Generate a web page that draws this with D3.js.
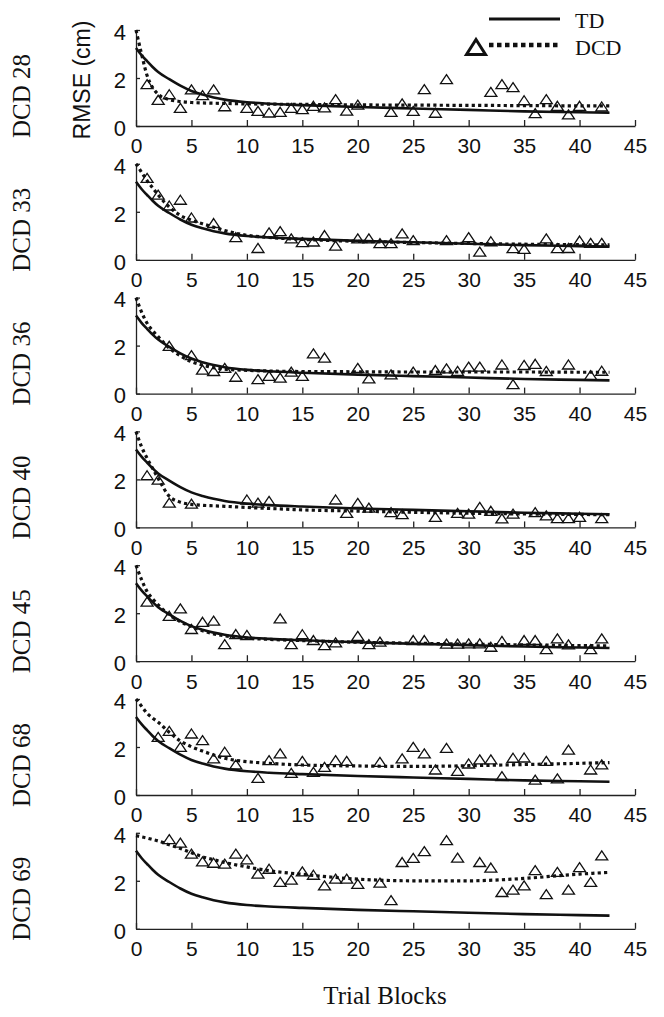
<!DOCTYPE html>
<html><head><meta charset="utf-8">
<script src="https://cdn.jsdelivr.net/npm/d3@7"></script>
<style>html,body{margin:0;padding:0;background:#fff;}svg{display:block;}</style>
</head><body>
<script>
// ---- data ----
const panelNames = ["DCD 28","DCD 33","DCD 36","DCD 40","DCD 45","DCD 68","DCD 69"];
const xTicks = [0,5,10,15,20,25,30,35,40,45];
const yTicks = [0,2,4];
const fitBlocks = [0,0.5,1,1.5,2,3,4,5,6,7,8,10,12,15,20,25,30,35,40,42.7];
const tdFit = [3.25,2.95,2.7,2.46,2.25,1.95,1.68,1.46,1.31,1.19,1.1,0.99,0.93,0.87,0.79,0.73,0.67,0.61,0.57,0.55];
const dcdFit28 = [4.0,3.0,2.1,1.6,1.32,1.1,1.02,0.98,0.96,0.95,0.94,0.92,0.91,0.9,0.88,0.87,0.86,0.85,0.84,0.84];
const dcdFit33 = [4.0,3.65,3.3,3.0,2.7,2.2,1.85,1.65,1.5,1.36,1.22,1.02,0.93,0.85,0.77,0.72,0.68,0.65,0.63,0.62];
const dcdFit36 = [4.0,3.4,2.93,2.62,2.37,1.9,1.57,1.33,1.19,1.08,1.02,0.97,0.94,0.92,0.91,0.9,0.9,0.9,0.89,0.89];
const dcdFit40 = [4.0,3.36,2.88,2.46,2.04,1.3,1.05,0.96,0.92,0.9,0.88,0.83,0.79,0.73,0.68,0.63,0.59,0.56,0.54,0.53];
const dcdFit45 = [4.0,3.4,2.9,2.6,2.35,1.93,1.65,1.44,1.27,1.14,1.06,0.96,0.91,0.86,0.79,0.75,0.71,0.68,0.65,0.64];
const dcdFit68 = [4.0,3.7,3.4,3.2,3.03,2.61,2.25,2.01,1.83,1.67,1.53,1.39,1.32,1.25,1.21,1.19,1.22,1.27,1.32,1.35];
const dcdFit69 = [3.88,3.83,3.78,3.72,3.66,3.5,3.35,3.17,3.0,2.88,2.76,2.58,2.42,2.27,2.07,2.0,2.0,2.1,2.28,2.35];

const obs28Blocks = [1,2,3,4,5,6,7,8,10,11,12,13,14,15,16,17,18,19,20,23,24,25,26,27,28,32,33,34,35,36,37,38,39,40,42];
const obs28 = [1.68,1.03,1.26,0.69,1.46,1.22,1.46,0.76,0.69,0.57,0.5,0.53,0.69,0.64,0.78,0.71,1.06,0.58,0.83,0.53,0.88,0.57,1.47,0.49,1.89,1.36,1.68,1.56,1.01,0.47,1.06,0.78,0.42,0.78,0.75];
const obs33Blocks = [1,2,3,4,5,7,9,11,12,13,14,15,16,17,18,20,21,22,23,24,25,28,30,31,32,34,35,37,38,39,40,41,42];
const obs33 = [3.35,2.65,2.2,2.44,1.7,1.47,0.88,0.43,1.08,1.13,0.83,0.67,0.7,0.97,0.53,0.83,0.83,0.63,0.63,1.04,0.76,0.76,0.88,0.28,0.71,0.42,0.39,0.83,0.42,0.43,0.74,0.64,0.64];
const obs36Blocks = [3,5,6,7,8,9,11,12,13,14,15,16,17,20,21,23,25,27,28,29,30,31,33,34,35,36,37,39,41,42];
const obs36 = [1.93,1.54,0.94,0.88,1.01,0.64,0.54,0.68,0.6,0.85,0.68,1.61,1.44,1.01,0.57,0.74,0.85,0.92,0.99,0.88,1.06,1.06,1.15,0.33,1.13,1.18,0.88,1.15,0.71,0.89];
const obs40Blocks = [1,2,3,5,10,11,12,18,19,20,21,23,24,27,29,30,31,32,33,34,36,37,38,39,40,42];
const obs40 = [2.11,1.93,0.97,0.93,1.1,0.97,1.04,1.1,0.54,0.96,0.76,0.57,0.49,0.38,0.54,0.51,0.79,0.63,0.31,0.51,0.57,0.44,0.32,0.32,0.38,0.32];
const obs45Blocks = [1,3,4,5,6,7,8,9,10,13,14,15,16,17,18,20,21,22,25,26,28,29,30,31,32,33,35,36,37,38,39,41,42];
const obs45 = [2.42,1.83,2.14,1.28,1.58,1.63,0.65,1.07,1.03,1.72,0.65,1.06,0.82,0.61,0.72,0.99,0.65,0.75,0.82,0.82,0.67,0.67,0.68,0.68,0.54,0.78,0.82,0.82,0.44,0.89,0.64,0.44,0.89];
const obs68Blocks = [2,3,4,5,6,7,8,9,11,12,13,14,15,16,17,18,19,22,24,25,26,27,28,29,30,31,32,33,34,35,36,37,38,39,41,42];
const obs68 = [2.36,2.61,1.94,2.5,2.22,1.46,1.74,1.21,0.65,1.39,1.67,0.86,1.36,0.9,1.11,1.39,1.36,1.32,1.46,1.94,1.67,1.0,1.9,0.94,1.25,1.42,1.42,0.72,1.49,1.5,0.58,1.36,0.63,1.83,1.0,1.21];
const obs69Blocks = [3,4,5,6,7,8,9,10,11,12,13,14,15,16,17,18,19,20,22,23,24,25,26,28,29,31,32,33,34,35,36,37,38,39,40,41,42];
const obs69 = [3.67,3.53,3.07,2.75,2.69,2.65,3.07,2.83,2.24,2.44,1.89,1.99,2.33,2.19,1.75,2.03,2.03,1.81,1.86,1.13,2.72,2.89,3.17,3.63,2.9,2.72,2.49,1.47,1.57,1.75,2.38,1.38,2.31,1.57,2.51,1.89,3.0];

const dcdFits = [dcdFit28,dcdFit33,dcdFit36,dcdFit40,dcdFit45,dcdFit68,dcdFit69];
const obsBlocks = [obs28Blocks,obs33Blocks,obs36Blocks,obs40Blocks,obs45Blocks,obs68Blocks,obs69Blocks];
const obsValues = [obs28,obs33,obs36,obs40,obs45,obs68,obs69];

// ---- drawing ----
const W = 664, H = 1017;
const svg = d3.select("body").append("svg").attr("width", W).attr("height", H);
const x = d3.scaleLinear().domain([0,45]).range([136,635]);
const step = 133.8, base0 = 126, ph = 96;
const sans = "'Liberation Sans', Arial, sans-serif";
const serif = "'Liberation Serif', 'Times New Roman', serif";
const triPath = "M0,-6L6,3L-6,3Z";

panelNames.forEach((name, i) => {
  const b = base0 + step * i;
  const y = d3.scaleLinear().domain([0,4]).range([b, b - ph]);
  const g = svg.append("g");

  // x axis
  const xa = g.append("g").attr("transform", `translate(0,${b})`)
    .call(d3.axisBottom(x).tickValues(xTicks).tickFormat(d3.format("d"))
      .tickSizeInner(-6).tickSizeOuter(0).tickPadding(11));
  xa.select(".domain").attr("stroke", "#222").attr("stroke-width", 1.3);
  xa.selectAll(".tick line").attr("stroke", "#222").attr("stroke-width", 1.3);
  xa.selectAll(".tick text").attr("font-family", sans).attr("font-size", 21).attr("fill", "#111")
    .attr("dy", "0.78em");

  // y axis
  const ya = g.append("g").attr("transform", `translate(${x(0)},0)`)
    .call(d3.axisLeft(y).tickValues(yTicks).tickFormat(d3.format("d"))
      .tickSizeInner(-4).tickSizeOuter(0).tickPadding(10));
  ya.select(".domain").attr("stroke", "#222").attr("stroke-width", 1.3);
  ya.selectAll(".tick line").attr("stroke", "#222").attr("stroke-width", 1.3);
  ya.selectAll(".tick text").attr("font-family", sans).attr("font-size", 22).attr("fill", "#111")
    .attr("dy", "0.42em");

  // TD fit
  const line = d3.line().x(d => x(d[0])).y(d => y(d[1])).curve(d3.curveMonotoneX);
  g.append("path").datum(fitBlocks.map((t, k) => [t, tdFit[k]]))
    .attr("d", line).attr("fill", "none").attr("stroke", "#111").attr("stroke-width", 2.6);
  // DCD fit
  g.append("path").datum(fitBlocks.map((t, k) => [t, dcdFits[i][k]]))
    .attr("d", line).attr("fill", "none").attr("stroke", "#111").attr("stroke-width", 3.2)
    .attr("stroke-dasharray", "3.2,3.2");

  // DCD observations
  g.selectAll("path.tri").data(obsBlocks[i].map((t, k) => [t, obsValues[i][k]]))
    .join("path").attr("class", "tri").attr("d", triPath)
    .attr("transform", d => `translate(${x(d[0])},${y(d[1])})`)
    .attr("fill", "none").attr("stroke", "#111").attr("stroke-width", 1.3);

  // row label
  const cy = b - ph / 2 + 18;
  g.append("text").attr("transform", `translate(30,${cy}) rotate(-90)`)
    .attr("text-anchor", "middle").attr("font-family", serif).attr("font-size", 25)
    .attr("fill", "#111").text(name);
});

// y axis title
svg.append("text").attr("transform", "translate(90,80) rotate(-90)")
  .attr("text-anchor", "middle").attr("font-family", sans).attr("font-size", 23)
  .attr("fill", "#111").text("RMSE (cm)");

// x axis title
svg.append("text").attr("x", 385).attr("y", 1004).attr("text-anchor", "middle")
  .attr("font-family", serif).attr("font-size", 25).attr("fill", "#111").text("Trial Blocks");

// legend
const lg = svg.append("g");
lg.append("line").attr("x1", 489).attr("x2", 560).attr("y1", 19).attr("y2", 19)
  .attr("stroke", "#111").attr("stroke-width", 3.2);
lg.append("text").attr("x", 575).attr("y", 28).attr("font-family", serif).attr("font-size", 22)
  .attr("fill", "#111").text("TD");
lg.append("line").attr("x1", 489).attr("x2", 560).attr("y1", 45).attr("y2", 45)
  .attr("stroke", "#111").attr("stroke-width", 4.5).attr("stroke-dasharray", "4.5,3.5");
lg.append("path").attr("d", "M0,-7.5L9.5,7.5L-9.5,7.5Z").attr("transform", "translate(476,47)")
  .attr("fill", "#fff").attr("stroke", "#111").attr("stroke-width", 3);
lg.append("text").attr("x", 575).attr("y", 55).attr("font-family", serif).attr("font-size", 22)
  .attr("fill", "#111").text("DCD");
</script>
</body></html>
